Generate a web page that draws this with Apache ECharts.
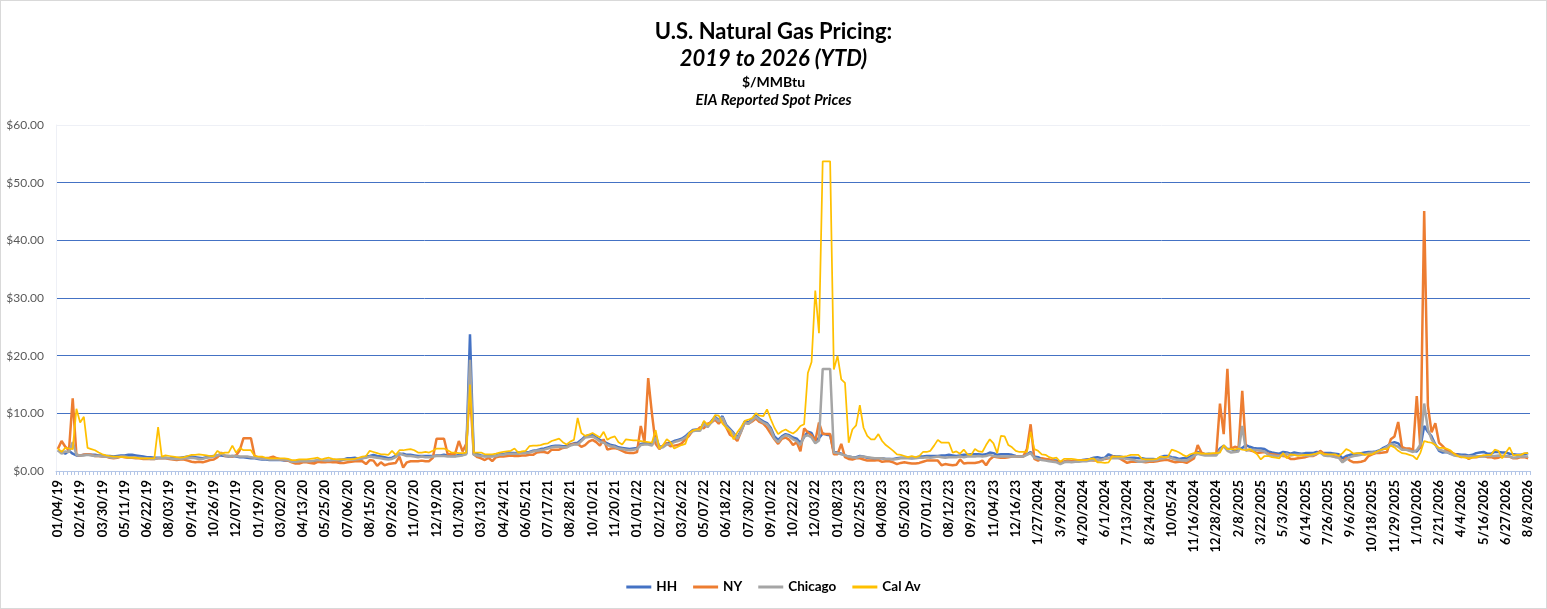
<!DOCTYPE html>
<html>
<head>
<meta charset="utf-8">
<title>U.S. Natural Gas Pricing</title>
<script src="https://cdn.jsdelivr.net/npm/echarts/dist/echarts.min.js"></script>
<style>
    html, body { margin: 0; padding: 0; background: #fff; }
    #chart { width: 1547px; height: 609px; box-sizing: border-box; border: 1px solid #d9d9d9; }
</style>
</head>
<body>
<div id="chart"></div>
<script>
// weekly spot prices, $/MMBtu
var tickLabels = ['01/04/19', '02/16/19', '03/30/19', '05/11/19', '06/22/19', '08/03/19', '09/14/19', '10/26/19', '12/07/19',
    '01/19/20', '03/02/20', '04/13/20', '05/25/20', '07/06/20', '08/15/20', '09/26/20', '11/07/20', '12/19/20',
    '01/30/21', '03/13/21', '04/24/21', '06/05/21', '07/17/21', '08/28/21', '10/10/21', '11/20/21',
    '01/01/22', '02/12/22', '03/26/22', '05/07/22', '06/18/22', '07/30/22', '09/10/22', '10/22/22', '12/03/22',
    '01/08/23', '02/25/23', '04/08/23', '05/20/23', '07/01/23', '08/12/23', '09/23/23', '11/04/23', '12/16/23',
    '1/27/2024', '3/9/2024', '4/20/2024', '6/1/2024', '7/13/2024', '8/24/2024', '10/05/24', '11/16/2024', '12/28/2024',
    '2/8/2025', '3/22/2025', '5/3/2025', '6/14/2025', '7/26/2025', '9/6/2025', '10/18/2025', '11/29/2025',
    '1/10/2026', '2/21/2026', '4/4/2026', '5/16/2026', '6/27/2026', '8/8/2026'];

var hh = [
    3.6,3.3,3.0,3.5,3.0,2.7,2.7,2.8,2.8,2.8, 2.8,2.7,2.7,2.6,2.6,2.5,2.6,2.7,2.7,2.8,
    2.8,2.7,2.6,2.5,2.4,2.4,2.3,2.3,2.3,2.3, 2.2,2.2,2.2,2.3,2.4,2.5,2.5,2.4,2.3,2.2,
    2.4,2.5,2.6,2.7,2.7,2.6,2.5,2.6,2.5,2.4, 2.4,2.3,2.2,2.2,2.1,2.0,2.0,1.9,1.9,1.9,
    1.9,1.8,1.8,1.7,1.7,1.7,1.8,1.8,1.7,1.7, 1.8,1.8,1.7,1.7,1.7,1.8,1.8,2.0,2.2,2.2,
    2.3,2.1,2.2,2.5,2.6,2.8,2.6,2.5,2.4,2.2, 2.3,2.6,2.9,3.0,2.8,2.8,2.7,2.6,2.6,2.6,
    2.6,2.6,2.7,2.7,2.8,2.7,2.6,2.6,2.8,2.9, 3.0,23.7,2.9,2.9,2.7,2.6,2.6,2.6,2.7,2.9,
    2.9,3.1,3.1,3.1,3.2,3.2,3.2,3.3,3.5,3.6, 3.8,3.9,4.1,4.3,4.4,4.4,4.3,4.3,4.6,4.8,
    4.9,5.4,6.0,6.2,6.3,5.8,5.4,5.1,4.8,
    4.5,4.4,4.1,4.0,3.9,3.8,3.9,4.0,4.7,4.8, 4.8,4.6,6.1,4.2,4.3,4.8,4.9,5.2,5.4,5.6,
    6.0,6.6,7.1,7.2,7.2,8.4,7.8,8.6,9.4,8.8, 9.5,8.0,7.3,6.6,5.8,7.0,8.6,8.4,9.0,9.6,
    9.0,8.6,8.3,7.5,6.0,5.4,6.0,6.4,6.2,5.8, 5.6,4.9,5.9,6.8,6.6,5.3,5.7,6.5,6.3,6.2,
    3.3,3.2,3.0,2.7,2.5,2.4,2.4,2.6,2.5,2.3, 2.2,2.1,2.2,2.2,2.1,2.1,2.1,2.2,2.3,2.3,
    2.3,2.2,2.3,2.5,2.5,2.6,2.6,2.6,2.6,2.7, 2.7,2.8,2.7,2.6,2.7,2.8,2.8,2.9,2.9,2.9,
    2.8,2.9,3.2,3.1,2.8,2.9,2.9,2.9,2.8,2.6, 2.5,2.6,2.9,3.3,2.5,2.4,2.1,2.0,1.9,1.8,
    1.8,1.4,1.6,1.8,1.7,1.8,1.8,1.9,2.0,2.1, 2.3,2.4,2.2,2.3,2.9,2.6,2.5,2.5,2.4,2.2,
    2.3,2.3,2.2,2.2,2.1,2.1,2.1,2.0,2.4,2.6, 2.6,2.4,2.3,2.1,2.2,2.2,2.5,2.9,3.3,3.1,
    2.9,3.0,2.9,3.0,3.9,4.4,3.8,3.8,3.6,3.7, 4.0,4.5,4.2,4.0,3.9,3.9,3.8,3.4,3.2,3.1,
    3.0,3.3,3.2,3.0,3.2,3.1,3.0,3.1,3.1,3.1, 3.3,3.2,3.1,3.1,3.1,3.0,2.9,2.2,2.6,2.8,
    2.9,3.0,3.1,3.2,3.3,3.3,3.4,3.6,4.0,4.3, 4.8,5.0,4.8,4.0,3.8,3.6,3.5,3.4,4.2,7.8,
    6.8,6.0,4.6,3.5,3.2,3.3,3.0,2.9,2.9,2.8, 2.8,2.7,2.8,3.1,3.2,3.3,3.0,3.0,3.3,3.3,
    3.2,3.2,3.0,2.9,2.8,2.8,2.9,3.1
];

var ny = [
    3.8,5.2,4.2,3.6,12.6,2.8,2.7,2.8,2.9,2.8, 2.6,2.6,2.5,2.5,2.3,2.2,2.3,2.5,2.4,2.3,
    2.3,2.2,2.2,2.1,2.1,2.1,2.1,2.2,2.2,2.2, 2.1,2.0,1.9,2.0,2.0,1.8,1.6,1.5,1.6,1.5,
    1.7,1.9,2.0,2.4,3.2,2.6,2.6,2.5,2.7,3.6, 5.7,5.7,5.7,2.6,2.3,2.2,2.2,2.3,2.5,2.2,
    2.0,1.9,1.8,1.5,1.3,1.3,1.5,1.5,1.4,1.3, 1.6,1.5,1.5,1.6,1.5,1.5,1.4,1.4,1.5,1.6,
    1.7,1.7,1.7,1.2,1.9,1.8,0.9,1.5,1.0,1.2, 1.3,1.4,2.5,0.6,1.5,1.7,1.7,1.7,1.8,1.7,
    1.7,2.3,5.6,5.6,5.6,2.9,2.9,3.0,5.2,3.4, 4.7,14.0,2.9,2.4,2.2,1.9,2.3,1.7,2.4,2.5,
    2.5,2.6,2.7,2.6,2.6,2.7,2.7,2.8,2.8,3.2, 3.3,3.3,3.1,3.7,3.7,3.7,4.0,4.1,4.5,4.7,
    4.7,4.2,4.5,5.1,5.4,5.0,4.4,5.5,3.7,
    3.9,4.0,3.8,3.5,3.2,3.1,3.1,3.3,7.8,5.0, 16.1,10.0,4.7,3.8,4.4,4.8,4.3,4.4,4.5,4.8,
    5.5,6.1,7.0,7.0,7.6,7.4,8.2,8.4,8.9,8.2, 9.1,7.6,6.3,5.9,5.2,6.8,8.4,8.2,8.6,9.1,
    8.5,8.2,7.5,6.5,5.5,4.7,5.6,5.8,5.4,4.5, 5.0,3.4,7.4,6.7,6.2,5.2,8.4,6.4,6.4,6.4,
    2.9,2.9,4.7,2.4,2.1,2.0,2.2,2.2,2.0,1.8, 1.8,1.8,1.9,1.6,1.7,1.7,1.5,1.2,1.4,1.5,
    1.4,1.3,1.3,1.4,1.6,1.8,1.8,1.8,1.8,1.0, 1.2,1.1,1.0,1.1,2.0,1.3,1.4,1.4,1.4,1.5,
    1.8,1.0,2.0,2.5,2.4,2.3,2.3,2.4,2.5,2.5, 2.5,2.5,3.8,8.1,2.1,1.8,2.2,2.1,2.0,1.8,
    1.6,1.5,1.6,1.8,1.7,1.7,1.8,1.8,1.9,1.9, 1.8,1.8,1.9,2.1,2.2,2.5,2.4,2.2,1.8,1.4,
    1.6,1.6,1.6,1.6,1.5,1.6,1.6,1.7,1.8,1.9, 1.9,1.7,1.5,1.6,1.6,1.4,1.8,2.2,4.5,3.2,
    2.9,2.9,2.9,2.9,11.7,6.4,17.7,3.9,4.2,4.0, 13.9,3.7,3.6,3.4,3.1,3.2,3.3,3.0,2.9,2.8,
    2.7,2.6,2.5,2.1,2.1,2.2,2.3,2.4,2.6,2.6, 2.9,3.5,3.0,2.8,2.6,2.5,2.4,1.6,2.3,1.8,
    1.5,1.5,1.6,1.8,2.6,2.9,3.1,3.1,3.2,3.3, 5.5,6.0,8.5,4.2,3.9,3.9,3.7,13.0,3.8,45.1,
    11.3,6.7,8.3,4.9,4.3,3.6,3.3,3.0,2.7,2.4, 2.6,2.1,2.4,2.4,2.5,2.6,2.4,2.4,2.2,2.3,
    2.6,2.5,2.5,2.2,2.2,2.4,2.4,2.2
];

var chicago = [
    3.6,3.0,3.4,3.3,5.0,2.8,2.7,2.7,2.8,2.7, 2.6,2.6,2.5,2.5,2.4,2.3,2.4,2.5,2.5,2.4,
    2.4,2.3,2.3,2.2,2.2,2.1,2.1,2.2,2.2,2.2, 2.2,2.1,2.1,2.1,2.2,2.2,2.3,2.2,2.1,2.1,
    2.3,2.4,2.5,2.7,3.0,2.7,2.6,2.6,2.6,2.5, 2.5,2.5,2.4,2.3,2.2,2.1,2.1,2.0,2.0,2.0,
    2.0,2.0,1.9,1.6,1.6,1.7,1.7,1.7,1.7,1.8, 1.9,1.9,1.8,1.8,1.9,1.9,2.0,2.0,2.0,2.0,
    2.0,2.1,2.2,2.3,2.5,2.4,2.3,2.2,2.1,2.0, 2.1,2.4,3.1,2.8,2.6,2.6,2.5,2.4,2.5,2.4,
    2.4,2.5,2.6,2.6,2.6,2.5,2.5,2.5,2.6,2.7, 2.9,19.3,2.8,2.7,2.6,2.5,2.5,2.5,2.6,2.8,
    2.8,3.0,3.0,3.0,3.0,3.1,3.1,3.2,3.4,3.5, 3.6,3.7,3.9,4.1,4.2,4.2,4.1,4.1,4.4,4.6,
    4.6,5.2,5.8,5.9,6.0,5.6,5.1,4.9,4.5,
    4.3,4.2,3.9,3.8,3.7,3.6,3.7,3.8,4.5,4.6, 4.6,4.4,5.8,4.0,4.1,4.6,4.7,5.0,5.2,5.4,
    5.8,6.4,6.9,7.0,7.0,8.2,7.6,8.4,9.2,8.6, 9.3,7.8,7.1,6.4,5.6,6.8,8.4,8.2,8.8,9.4,
    8.8,8.4,8.1,7.2,5.6,5.0,5.8,6.2,6.0,5.5, 5.2,4.5,6.0,6.2,5.8,4.8,5.3,17.7,17.7,17.7,
    3.2,3.1,2.9,2.7,2.5,2.4,2.3,2.5,2.5,2.4, 2.3,2.2,2.2,2.2,2.1,2.1,2.0,2.1,2.2,2.2,
    2.2,2.2,2.2,2.3,2.3,2.4,2.3,2.4,2.5,2.4, 2.3,2.4,2.4,2.4,2.5,2.4,2.5,2.5,2.5,2.6,
    2.5,2.6,2.8,2.6,2.5,2.5,2.5,2.5,2.5,2.5, 2.5,2.5,2.8,3.1,2.3,2.1,1.9,1.8,1.7,1.6,
    1.5,1.2,1.5,1.6,1.5,1.6,1.6,1.7,1.7,1.8, 1.9,2.0,1.9,2.2,2.3,2.2,2.2,2.2,2.2,2.1,
    2.0,1.9,1.6,1.6,1.7,1.8,1.8,1.9,2.1,2.2, 2.4,2.2,2.0,1.9,1.8,1.8,2.2,2.6,3.0,2.8,
    2.7,2.7,2.7,2.7,3.6,4.3,3.5,3.2,3.3,3.4, 7.8,3.5,3.7,3.7,3.6,3.5,3.4,2.8,2.7,2.6,
    2.6,2.7,3.0,2.7,2.8,2.8,2.8,2.7,2.7,2.7, 3.0,3.2,2.7,2.6,2.6,2.4,2.3,1.5,2.0,2.4,
    2.6,2.7,2.8,2.9,3.1,3.2,3.2,3.5,3.8,4.2, 4.7,4.5,4.2,3.7,3.7,3.5,3.3,3.6,4.6,11.7,
    7.2,5.5,4.5,3.7,3.5,3.3,3.0,2.7,2.6,2.6, 2.5,2.6,2.5,2.6,2.5,2.5,2.6,2.6,2.6,2.7,
    2.6,2.6,2.5,2.3,2.4,2.5,2.5,2.5
];

var calAv = [
    3.9,3.3,4.0,3.9,3.8,10.8,8.4,9.4,4.0,3.8, 3.6,3.2,2.9,2.7,2.6,2.5,2.5,2.4,2.4,2.3,
    2.3,2.3,2.2,2.2,2.2,2.2,2.2,7.6,2.5,2.7, 2.6,2.5,2.4,2.3,2.4,2.6,2.8,2.8,2.9,2.8,
    2.7,2.6,2.6,3.5,3.0,3.2,3.2,4.4,3.2,4.0, 3.6,3.6,3.6,2.6,2.5,2.5,2.3,2.2,2.2,2.2,
    2.2,2.2,2.1,1.9,1.9,2.0,2.0,2.0,2.1,2.2, 2.3,2.0,2.2,2.3,2.1,2.0,2.0,2.0,2.0,2.0,
    2.1,2.3,2.5,2.6,3.5,3.3,3.1,2.9,2.9,2.8, 3.5,2.8,3.6,3.6,3.7,3.8,3.6,3.2,3.2,3.3,
    3.2,3.5,3.9,3.9,3.9,3.6,3.2,3.2,3.1,3.1, 3.2,15.0,3.2,3.2,3.2,2.9,2.9,2.9,3.0,3.2,
    3.3,3.4,3.5,3.9,3.2,3.4,3.5,4.3,4.4,4.4, 4.5,4.7,4.8,5.2,5.4,5.6,5.0,4.6,5.1,5.4,
    9.2,6.6,6.1,6.3,6.6,6.2,5.8,6.8,5.4,
    5.8,6.0,5.0,4.6,5.5,5.4,5.3,5.3,5.2,5.1, 5.0,4.9,7.1,3.9,4.5,5.5,5.0,3.9,4.2,4.5,
    4.7,6.6,7.0,7.2,7.2,8.7,8.0,8.5,9.7,9.6, 8.2,7.5,7.0,5.5,6.7,7.6,8.7,8.9,9.2,10.0,
    9.6,9.5,10.7,9.0,7.5,6.4,6.9,7.2,6.8,6.5, 7.0,7.8,8.1,17.0,18.9,31.3,23.9,53.7,53.7,53.7,
    17.6,20.0,15.9,15.3,4.9,7.2,7.9,11.4,7.5,6.1, 5.5,5.5,6.4,5.2,4.5,4.0,3.5,2.9,2.8,2.6,
    2.4,2.6,2.4,2.6,3.3,3.3,3.5,4.4,5.4,4.9, 4.9,4.9,3.2,3.4,3.0,3.7,2.9,2.8,3.8,3.4,
    3.3,4.5,5.5,4.8,3.1,6.1,6.0,4.5,4.1,3.5, 3.3,3.3,3.3,6.8,3.8,3.5,2.9,2.8,2.4,2.2,
    2.3,1.6,2.1,2.1,2.1,2.0,1.9,1.9,1.9,2.1, 2.2,1.5,1.5,1.4,1.5,2.5,2.5,2.5,2.5,2.6,
    2.8,2.8,2.8,2.1,2.0,2.0,2.0,2.1,2.5,2.4, 2.5,3.7,3.5,3.2,2.8,2.5,2.9,3.1,3.2,3.0,
    3.0,3.0,3.1,3.1,3.2,4.5,3.8,3.8,3.7,3.9, 3.7,3.6,3.8,3.4,2.9,2.0,2.6,2.6,2.4,2.3,
    2.2,3.1,2.2,2.9,2.8,2.6,2.7,2.8,2.8,2.9, 3.0,3.2,2.9,2.9,2.9,2.9,2.6,3.1,3.8,3.5,
    3.0,3.1,3.1,2.8,2.9,2.9,3.3,3.6,3.8,3.8, 4.4,4.1,3.5,3.1,3.0,2.8,2.6,2.0,3.2,5.2,
    5.0,4.9,4.5,4.0,4.0,3.9,3.6,3.0,2.6,2.4, 2.3,2.2,2.3,2.4,2.6,2.7,2.8,2.8,3.7,3.5,
    2.2,3.2,4.1,2.7,2.8,2.8,3.1,3.1
];

var weeks = hh.map(function (v, i) { return String(i); });
var font = 'Lato, "Noto Sans", sans-serif';

var myChart = echarts.init(document.getElementById('chart'));
var option = {
    animation: false,
    textStyle: { fontFamily: font },
    title: [
        { text: 'U.S. Natural Gas Pricing:', left: 'center', top: 15,
          textStyle: { fontSize: 22, fontWeight: 'bold', color: '#000', fontFamily: font } },
        { text: '2019 to 2026 (YTD)', left: 'center', top: 42,
          textStyle: { fontSize: 22, fontWeight: 'bold', fontStyle: 'italic', color: '#000', fontFamily: font } },
        { text: '$/MMBtu', left: 'center', top: 69,
          textStyle: { fontSize: 14, fontWeight: 'bold', color: '#000', fontFamily: font } },
        { text: 'EIA Reported Spot Prices', left: 'center', top: 87,
          textStyle: { fontSize: 15, fontWeight: 'bold', fontStyle: 'italic', color: '#000', fontFamily: font } }
    ],
    legend: {
        data: ['HH', 'NY', 'Chicago', 'Cal Av'],
        left: 'center',
        top: 574,
        icon: 'rect',
        itemWidth: 25,
        itemHeight: 3,
        itemGap: 16,
        textStyle: { fontSize: 13.5, fontWeight: 'bold', color: '#000', fontFamily: font }
    },
    grid: { left: 55, right: 16, top: 124, bottom: 137 },
    xAxis: {
        type: 'category',
        data: weeks,
        boundaryGap: true,
        axisLine: { lineStyle: { color: '#b4c6e7', width: 1 } },
        axisTick: { show: true, interval: 0, length: 4, lineStyle: { color: '#b4c6e7' } },
        axisLabel: {
            interval: 5,
            rotate: 90,
            margin: 9,
            fontSize: 13,
            fontWeight: 'bold',
            color: '#000',
            fontFamily: font,
            formatter: function (v, idx) { return tickLabels[idx / 6] || ''; }
        },
        splitLine: { show: false }
    },
    yAxis: {
        type: 'value',
        min: 0,
        max: 60,
        interval: 10,
        axisLine: { show: true, lineStyle: { color: '#eef0f6' } },
        axisTick: { show: false },
        axisLabel: {
            fontSize: 12,
            color: '#595959',
            margin: 12,
            fontFamily: font,
            formatter: function (v) { return '$' + v.toFixed(2); }
        },
        splitLine: {
            lineStyle: { color: ['#4472c4', '#4472c4', '#4472c4', '#4472c4', '#4472c4', '#4472c4', '#eef0f6'], width: 1 }
        }
    },
    series: [
        { name: 'HH', type: 'line', data: hh, symbol: 'none', color: '#4472c4',
          lineStyle: { width: 2.5 } },
        { name: 'NY', type: 'line', data: ny, symbol: 'none', color: '#ed7d31',
          lineStyle: { width: 2.5 } },
        { name: 'Chicago', type: 'line', data: chicago, symbol: 'none', color: '#a5a5a5',
          lineStyle: { width: 2.5 } },
        { name: 'Cal Av', type: 'line', data: calAv, symbol: 'none', color: '#ffc000',
          lineStyle: { width: 1.75 } }
    ]
};
myChart.setOption(option);
</script>
</body>
</html>
